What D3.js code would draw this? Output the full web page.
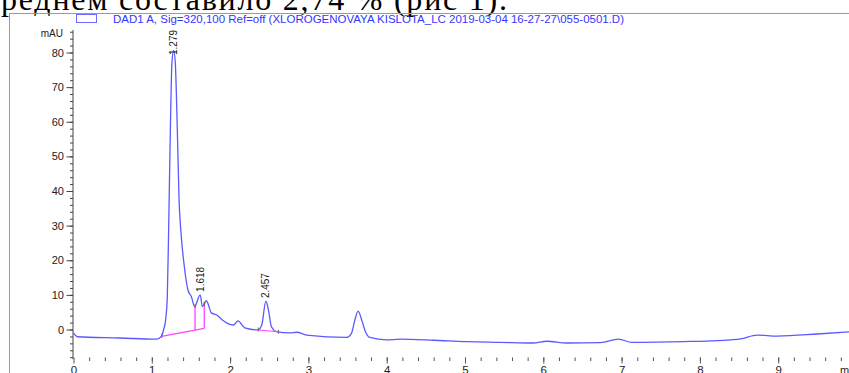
<!DOCTYPE html>
<html>
<head>
<meta charset="utf-8">
<script src="https://cdn.jsdelivr.net/npm/d3@7"></script>
<style>
  body { margin: 0; background: #fff; overflow: hidden; }
  svg { display: block; font-family: "Liberation Sans", Arial, sans-serif; }
</style>
</head>
<body>
<svg width="849" height="373"></svg>
<script>
// retention time (min) / signal (mAU)
const times = [0.00, 0.05, 0.59, 1.06, 1.125, 1.15, 1.176, 1.198, 1.215, 1.237, 1.257, 1.279,
  1.30, 1.326, 1.347, 1.377, 1.41, 1.462, 1.505, 1.547, 1.618, 1.646, 1.697, 1.761, 1.829,
  1.905, 1.995, 2.046, 2.10, 2.187, 2.357, 2.404, 2.457, 2.49, 2.528, 2.59, 2.76, 2.85, 2.976,
  3.487, 3.55, 3.593, 3.635, 3.687, 3.73, 3.785, 4.0, 4.17, 4.6, 5.02, 5.45, 5.87, 6.045,
  6.30, 6.73, 6.96, 7.13, 7.79, 8.22, 8.52, 8.73, 8.99, 9.50, 9.95];
const signal = [-1.0, -2.1, -2.45, -2.8, -1.9, -0.1, 2.7, 9.5, 28.7, 57.6, 77.0, 80.6,
  77.0, 57.6, 38.4, 26.8, 19.2, 11.4, 9.5, 6.6, 10.0, 6.6, 8.3, 4.8, 4.2,
  2.7, 1.5, 1.3, 2.5, 0.5, -0.1, 1.3, 8.2, 5.6, 0.8, -0.6, -1.0, -0.8, -1.6,
  -2.3, -1.1, 2.7, 5.3, 2.3, -0.7, -2.3, -3.0, -2.8, -3.1, -3.5, -3.7, -3.9, -3.4,
  -3.9, -3.8, -2.8, -3.7, -3.5, -3.2, -2.7, -1.6, -1.9, -1.3, -0.6];

// labelled peaks
const peakTimes = [1.279, 1.618, 2.457];
const peakLabels = ['1.279', '1.618', '2.457'];

// integration baselines [t, mAU] and drop lines (t)
const baselines = [
  [[1.126, -2.0], [1.670, 0.35]],
  [[2.36, -0.15], [2.616, -0.65]]
];
const dropLines = [1.552, 1.670];

const xTicks = d3.range(0, 10, 1);
const yTicks = d3.range(0, 81, 10);

const legendText = 'DAD1 A, Sig=320,100 Ref=off (XLOROGENOVAYA KISLOTA_LC 2019-03-04 16-27-27\\055-0501.D)';
const pageText = 'среднем составило 2,74 % (рис 1).';

const svg = d3.select('svg');
const x = d3.scaleLinear().domain([0, 10]).range([73.5, 856.5]);
const y = d3.scaleLinear().domain([0, 80]).range([329.5, 52.5]);

// cropped line of the page text above the figure (justified in the source document)
svg.append('text')
  .attr('x', -15)
  .attr('y', 9.5)
  .attr('font-family', '"Liberation Serif", "DejaVu Serif", serif')
  .attr('font-size', 32)
  .attr('textLength', 522)
  .attr('lengthAdjust', 'spacing')
  .attr('fill', '#000')
  .text(pageText);

// frame
svg.append('rect')
  .attr('x', 9.5).attr('y', 13.5)
  .attr('width', 900).attr('height', 400)
  .attr('fill', 'none')
  .attr('stroke', '#9a9a9a');

// legend
svg.append('rect')
  .attr('x', 76.5).attr('y', 14.5)
  .attr('width', 20).attr('height', 8)
  .attr('fill', '#fff')
  .attr('stroke', '#6a6aff');
svg.append('text')
  .attr('x', 113).attr('y', 22.5)
  .attr('font-size', 11)
  .attr('textLength', 511)
  .attr('lengthAdjust', 'spacingAndGlyphs')
  .attr('fill', '#3535ff')
  .text(legendText);

// y axis
const yAxis = svg.append('g').attr('transform', 'translate(73,0)');
yAxis.append('line')
  .attr('y1', y(-8.6)).attr('y2', y(86.5))
  .attr('stroke', '#444');
yAxis.call(d3.axisLeft(y).tickValues(d3.range(-8, 87, 2)).tickSize(3).tickFormat(''))
  .call((g) => g.select('.domain').remove());
yAxis.append('g')
  .call(d3.axisLeft(y).tickValues(yTicks).tickSize(6.5).tickPadding(2.5))
  .call((g) => g.select('.domain').remove())
  .attr('font-size', 11)
  .attr('font-family', '"Liberation Sans", Arial, sans-serif');
yAxis.selectAll('line').attr('stroke', '#444');
yAxis.selectAll('text').attr('fill', '#222');
svg.append('text')
  .attr('x', 63).attr('y', 37)
  .attr('text-anchor', 'end')
  .attr('font-size', 10)
  .attr('fill', '#222')
  .text('mAU');

// x axis (ticks only)
const xAxis = svg.append('g').attr('transform', 'translate(0,357.5)');
xAxis.call(d3.axisBottom(x).tickValues(d3.range(0.2, 10, 0.2)).tickSize(3.5).tickFormat(''))
  .call((g) => g.select('.domain').remove());
xAxis.append('g')
  .call(d3.axisBottom(x).tickValues(xTicks).tickSize(6).tickPadding(2).tickFormat(d3.format('d')))
  .call((g) => g.select('.domain').remove())
  .attr('font-size', 11.5)
  .attr('font-family', '"Liberation Sans", Arial, sans-serif');
xAxis.selectAll('line').attr('stroke', '#555');
xAxis.selectAll('text').attr('fill', '#222');
svg.append('text')
  .attr('x', 840).attr('y', 374)
  .attr('font-size', 11)
  .attr('fill', '#222')
  .text('min');

// chromatogram trace
const points = times.map((t, i) => [t, signal[i]]);
const line = d3.line()
  .x((d) => x(d[0]))
  .y((d) => y(d[1]))
  .curve(d3.curveMonotoneX);
svg.append('path')
  .datum(points)
  .attr('d', line)
  .attr('fill', 'none')
  .attr('stroke', '#5a5aff')
  .attr('stroke-width', 1.3);

// signal value at time t (linear between read points)
function signalAt(t) {
  const i = d3.bisectLeft(times, t);
  if (i <= 0) return signal[0];
  if (i >= times.length) return signal[signal.length - 1];
  const f = (t - times[i - 1]) / (times[i] - times[i - 1]);
  return signal[i - 1] + f * (signal[i] - signal[i - 1]);
}

// integration baselines
svg.append('g')
  .selectAll('line')
  .data(baselines)
  .join('line')
  .attr('x1', (d) => x(d[0][0])).attr('y1', (d) => y(d[0][1]))
  .attr('x2', (d) => x(d[1][0])).attr('y2', (d) => y(d[1][1]))
  .attr('stroke', '#ff44ff')
  .attr('stroke-width', 1.2);

const base0 = baselines[0];
function baseAt(t) {
  const f = (t - base0[0][0]) / (base0[1][0] - base0[0][0]);
  return base0[0][1] + f * (base0[1][1] - base0[0][1]);
}
svg.append('g')
  .selectAll('line')
  .data(dropLines)
  .join('line')
  .attr('x1', (d) => x(d)).attr('x2', (d) => x(d))
  .attr('y1', (d) => y(baseAt(d)))
  .attr('y2', (d) => y(signalAt(d)))
  .attr('stroke', '#ff33ff')
  .attr('stroke-width', 1.2);

// small markers at integration start/end
const markers = baselines.flat().map((d) => d[0]).concat(dropLines);
svg.append('g')
  .selectAll('line')
  .data(markers)
  .join('line')
  .attr('x1', (d) => x(d)).attr('x2', (d) => x(d))
  .attr('y1', (d) => y(signalAt(d)) - 2)
  .attr('y2', (d) => y(signalAt(d)) + 2)
  .attr('stroke', '#666')
  .attr('stroke-width', 1);

// retention time labels
svg.append('g')
  .selectAll('text')
  .data(peakTimes)
  .join('text')
  .attr('transform', (d) => {
    const top = Math.max(y(signalAt(d)) - 3, 55);
    return `translate(${x(d) + 3.5},${top}) rotate(-90)`;
  })
  .attr('font-size', 10)
  .attr('fill', '#222')
  .text((d, i) => peakLabels[i]);
</script>
</body>
</html>
